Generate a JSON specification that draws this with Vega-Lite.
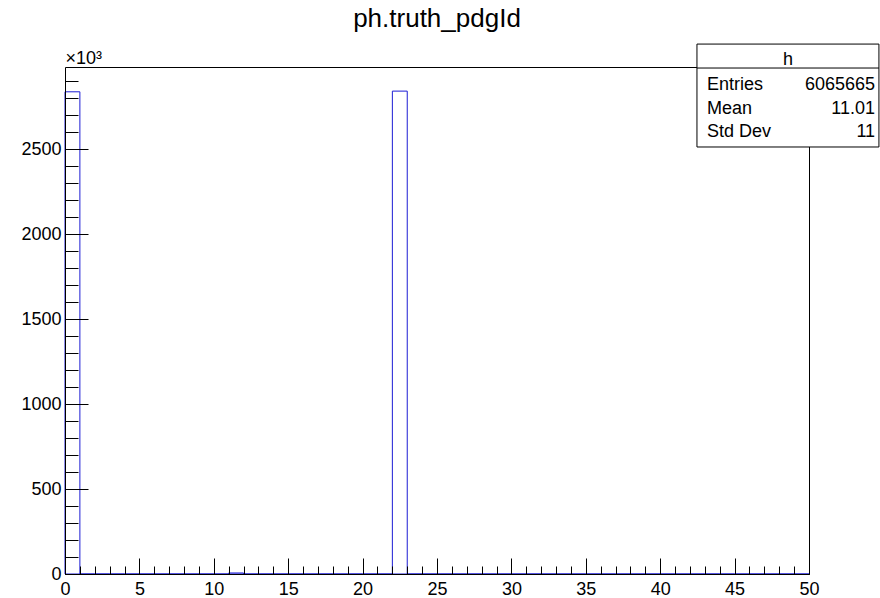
{
  "$schema": "https://vega.github.io/schema/vega-lite/v6.json",
  "width": 744,
  "height": 507,
  "autosize": {"type": "none"},
  "padding": {"left": 65, "top": 67, "right": 71, "bottom": 24},
  "background": "white",
  "config": {
    "view": {"stroke": null},
    "font": "Liberation Sans",
    "axis": {"grid": false, "labelFont": "Liberation Sans", "labelColor": "black", "tickColor": "black", "tickWidth": 1, "domainColor": "black", "domainWidth": 1, "titleFont": "Liberation Sans", "titleColor": "black"}
  },
  "title": {"text": "ph.truth_pdgId", "fontSize": 26, "fontWeight": "normal", "font": "Liberation Sans", "color": "black", "anchor": "middle", "baseline": "alphabetic", "offset": -9},
  "datasets": {
    "hist": [
      {"bin_start": 0, "bin_end": 1, "count": 2839},
      {"bin_start": 1, "bin_end": 2, "count": 0},
      {"bin_start": 2, "bin_end": 3, "count": 0},
      {"bin_start": 3, "bin_end": 4, "count": 0},
      {"bin_start": 4, "bin_end": 5, "count": 0},
      {"bin_start": 5, "bin_end": 6, "count": 0},
      {"bin_start": 6, "bin_end": 7, "count": 0},
      {"bin_start": 7, "bin_end": 8, "count": 0},
      {"bin_start": 8, "bin_end": 9, "count": 0},
      {"bin_start": 9, "bin_end": 10, "count": 0},
      {"bin_start": 10, "bin_end": 11, "count": 0},
      {"bin_start": 11, "bin_end": 12, "count": 6},
      {"bin_start": 12, "bin_end": 13, "count": 0},
      {"bin_start": 13, "bin_end": 14, "count": 0},
      {"bin_start": 14, "bin_end": 15, "count": 0},
      {"bin_start": 15, "bin_end": 16, "count": 0},
      {"bin_start": 16, "bin_end": 17, "count": 0},
      {"bin_start": 17, "bin_end": 18, "count": 0},
      {"bin_start": 18, "bin_end": 19, "count": 0},
      {"bin_start": 19, "bin_end": 20, "count": 0},
      {"bin_start": 20, "bin_end": 21, "count": 0},
      {"bin_start": 21, "bin_end": 22, "count": 0},
      {"bin_start": 22, "bin_end": 23, "count": 2843},
      {"bin_start": 23, "bin_end": 24, "count": 0},
      {"bin_start": 24, "bin_end": 25, "count": 0},
      {"bin_start": 25, "bin_end": 26, "count": 0},
      {"bin_start": 26, "bin_end": 27, "count": 0},
      {"bin_start": 27, "bin_end": 28, "count": 0},
      {"bin_start": 28, "bin_end": 29, "count": 0},
      {"bin_start": 29, "bin_end": 30, "count": 0},
      {"bin_start": 30, "bin_end": 31, "count": 0},
      {"bin_start": 31, "bin_end": 32, "count": 0},
      {"bin_start": 32, "bin_end": 33, "count": 0},
      {"bin_start": 33, "bin_end": 34, "count": 0},
      {"bin_start": 34, "bin_end": 35, "count": 0},
      {"bin_start": 35, "bin_end": 36, "count": 0},
      {"bin_start": 36, "bin_end": 37, "count": 0},
      {"bin_start": 37, "bin_end": 38, "count": 0},
      {"bin_start": 38, "bin_end": 39, "count": 0},
      {"bin_start": 39, "bin_end": 40, "count": 0},
      {"bin_start": 40, "bin_end": 41, "count": 0},
      {"bin_start": 41, "bin_end": 42, "count": 0},
      {"bin_start": 42, "bin_end": 43, "count": 0},
      {"bin_start": 43, "bin_end": 44, "count": 0},
      {"bin_start": 44, "bin_end": 45, "count": 0},
      {"bin_start": 45, "bin_end": 46, "count": 0},
      {"bin_start": 46, "bin_end": 47, "count": 0},
      {"bin_start": 47, "bin_end": 48, "count": 0},
      {"bin_start": 48, "bin_end": 49, "count": 0},
      {"bin_start": 49, "bin_end": 50, "count": 0}
    ],
    "stats": [
      {"name": "Entries", "value": "6065665"},
      {"name": "Mean", "value": "11.01"},
      {"name": "Std Dev", "value": "11"}
    ]
  },
  "resolve": {"axis": {"x": "independent", "y": "independent"}},
  "layer": [
    {
      "data": {"name": "hist"},
      "mark": {"type": "rect", "fill": "transparent", "stroke": "#1c1cd4", "strokeWidth": 1},
      "encoding": {
        "x": {"field": "bin_start", "type": "quantitative", "scale": {"domain": [0, 50], "nice": false, "zero": false},
          "axis": {"orient": "bottom", "values": [0, 5, 10, 15, 20, 25, 30, 35, 40, 45, 50], "format": "d", "tickSize": -16, "labelFontSize": 18, "labelPadding": 22, "domain": true, "title": null, "zindex": 1, "labelFlush": false, "labelOverlap": false}},
        "x2": {"field": "bin_end"},
        "y": {"field": "count", "type": "quantitative", "scale": {"domain": [0, 2985], "nice": false, "zero": true},
          "axis": {"orient": "left", "values": [0, 500, 1000, 1500, 2000, 2500], "format": "d", "tickSize": -23, "labelFontSize": 18, "labelPadding": 27, "domain": true, "zindex": 1, "labelFlush": false, "labelOverlap": false,
            "title": "×10³", "titleAngle": 0, "titleX": 0, "titleY": -4, "titleAlign": "left", "titleBaseline": "alphabetic", "titleFontSize": 18, "titleFontWeight": "normal"}},
        "y2": {"datum": 0}
      }
    },
    {
      "data": {"name": "hist"},
      "mark": {"type": "point", "opacity": 0},
      "encoding": {
        "x": {"field": "bin_start", "type": "quantitative",
          "axis": {"orient": "bottom", "values": [0,1,2,3,4,5,6,7,8,9,10,11,12,13,14,15,16,17,18,19,20,21,22,23,24,25,26,27,28,29,30,31,32,33,34,35,36,37,38,39,40,41,42,43,44,45,46,47,48,49,50], "tickSize": -8, "labels": false, "domain": false, "title": null, "zindex": 1}},
        "y": {"field": "count", "type": "quantitative",
          "axis": {"orient": "left", "values": [0,100,200,300,400,500,600,700,800,900,1000,1100,1200,1300,1400,1500,1600,1700,1800,1900,2000,2100,2200,2300,2400,2500,2600,2700,2800,2900], "tickSize": -13, "labels": false, "domain": false, "title": null, "zindex": 1}}
      }
    },
    {
      "data": {"name": "hist"},
      "mark": {"type": "point", "opacity": 0},
      "encoding": {
        "x": {"field": "bin_start", "type": "quantitative",
          "axis": {"orient": "top", "ticks": false, "labels": false, "domain": true, "title": null, "zindex": 0}},
        "y": {"field": "count", "type": "quantitative",
          "axis": {"orient": "right", "ticks": false, "labels": false, "domain": true, "title": null, "zindex": 0}}
      }
    },
    {
      "data": {"values": [{"box": "h"}]},
      "mark": {"type": "rect", "fill": "white", "stroke": "black", "strokeWidth": 1},
      "encoding": {
        "x": {"datum": 42.47, "type": "quantitative", "axis": null},
        "x2": {"datum": 54.70},
        "y": {"datum": 3120, "type": "quantitative", "axis": null},
        "y2": {"datum": 2514}
      }
    },
    {
      "data": {"values": [{"box": "h"}]},
      "mark": {"type": "rule", "stroke": "black", "strokeWidth": 1},
      "encoding": {
        "x": {"datum": 42.47, "type": "quantitative", "axis": null},
        "x2": {"datum": 54.70},
        "y": {"datum": 2979, "type": "quantitative", "axis": null}
      }
    },
    {
      "data": {"values": [{"box": "h"}]},
      "mark": {"type": "text", "align": "center", "baseline": "alphabetic", "fontSize": 18, "font": "Liberation Sans", "color": "black"},
      "encoding": {
        "x": {"datum": 48.59, "type": "quantitative", "axis": null},
        "y": {"datum": 2997, "type": "quantitative", "axis": null},
        "text": {"field": "box"}
      }
    },
    {
      "data": {"name": "stats"},
      "transform": [{"filter": "datum.name === 'Entries'"}],
      "encoding": {"y": {"datum": 2850, "type": "quantitative", "axis": null}, "text": {"field": "name"}},
      "layer": [
        {"mark": {"type": "text", "align": "left", "baseline": "alphabetic", "fontSize": 18, "font": "Liberation Sans", "color": "black"},
         "encoding": {"x": {"datum": 43.15, "type": "quantitative", "axis": null}, "text": {"field": "name"}}},
        {"mark": {"type": "text", "align": "right", "baseline": "alphabetic", "fontSize": 18, "font": "Liberation Sans", "color": "black"},
         "encoding": {"x": {"datum": 54.44, "type": "quantitative", "axis": null}, "text": {"field": "value"}}}
      ]
    },
    {
      "data": {"name": "stats"},
      "transform": [{"filter": "datum.name === 'Mean'"}],
      "encoding": {"y": {"datum": 2708, "type": "quantitative", "axis": null}, "text": {"field": "name"}},
      "layer": [
        {"mark": {"type": "text", "align": "left", "baseline": "alphabetic", "fontSize": 18, "font": "Liberation Sans", "color": "black"},
         "encoding": {"x": {"datum": 43.15, "type": "quantitative", "axis": null}, "text": {"field": "name"}}},
        {"mark": {"type": "text", "align": "right", "baseline": "alphabetic", "fontSize": 18, "font": "Liberation Sans", "color": "black"},
         "encoding": {"x": {"datum": 54.44, "type": "quantitative", "axis": null}, "text": {"field": "value"}}}
      ]
    },
    {
      "data": {"name": "stats"},
      "transform": [{"filter": "datum.name === 'Std Dev'"}],
      "encoding": {"y": {"datum": 2573, "type": "quantitative", "axis": null}, "text": {"field": "name"}},
      "layer": [
        {"mark": {"type": "text", "align": "left", "baseline": "alphabetic", "fontSize": 18, "font": "Liberation Sans", "color": "black"},
         "encoding": {"x": {"datum": 43.15, "type": "quantitative", "axis": null}, "text": {"field": "name"}}},
        {"mark": {"type": "text", "align": "right", "baseline": "alphabetic", "fontSize": 18, "font": "Liberation Sans", "color": "black"},
         "encoding": {"x": {"datum": 54.44, "type": "quantitative", "axis": null}, "text": {"field": "value"}}}
      ]
    }
  ]
}
